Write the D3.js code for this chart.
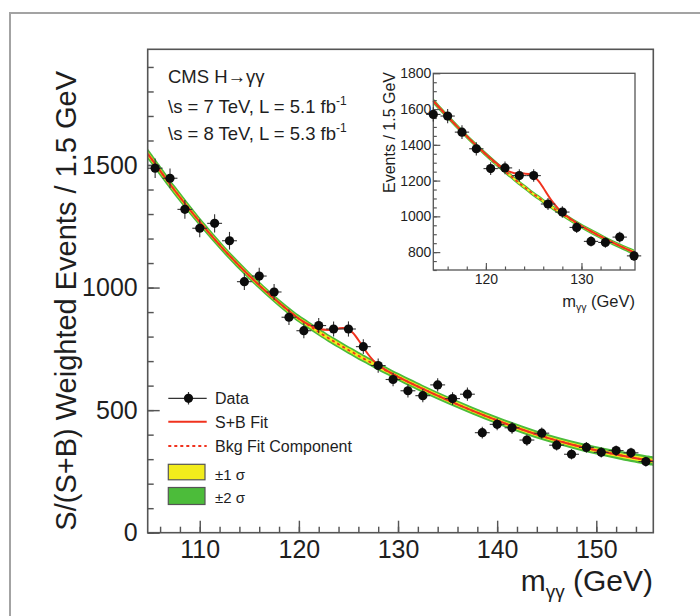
<!DOCTYPE html>
<html>
<head>
<meta charset="utf-8">
<script src="https://cdn.jsdelivr.net/npm/d3@7"></script>
<style>
  html, body { margin: 0; padding: 0; background: #fff; }
  svg { display: block; font-family: "Liberation Sans", Arial, Helvetica, sans-serif; }
</style>
</head>
<body>
<svg id="chart" width="700" height="616"></svg>
<script>
// ---- Main panel: S/(S+B) weighted diphoton mass spectrum (1.5 GeV bins) ----
const massBins = [105.5, 107, 108.5, 110, 111.5, 113, 114.5, 116, 117.5, 119, 120.5, 122, 123.5, 125, 126.5, 128, 129.5,
                  131, 132.5, 134, 135.5, 137, 138.5, 140, 141.5, 143, 144.5, 146, 147.5, 149, 150.5, 152, 153.5, 155];
const weightedEvents = [1487, 1446, 1319, 1242, 1262, 1191, 1024, 1047, 982, 879, 824, 845, 831, 831, 759, 682, 625,
                        579, 559, 603, 547, 565, 408, 442, 428, 378, 406, 357, 320, 348, 328, 335, 326, 290];
const weightedErrors = [40, 40, 38, 37, 37, 36, 34, 34, 33, 32, 31, 31, 31, 31, 30, 29, 28,
                        27, 27, 27, 26, 27, 24, 24, 24, 23, 23, 22, 21, 22, 21, 21, 21, 20];

// Fit curves sampled along the mass axis
const fitMass = [104.75, 105, 107.5, 110, 112.5, 115, 117.5, 120, 121, 122, 123, 123.5, 124, 124.5, 125, 125.5, 126,
                 126.5, 127, 127.5, 128, 129, 130, 132.5, 135, 137.5, 140, 142.5, 145, 147.5, 150, 152.5, 155, 155.75];
const bkgFit = [1545, 1532, 1395, 1268, 1152, 1048, 955, 873, 846, 819, 793, 781, 769, 757, 745, 734, 722,
                711, 700, 689, 678, 657, 636, 587, 541, 498, 458, 421, 388, 360, 336, 315, 297, 292];
const sbFit = [1545, 1532, 1395, 1268, 1152, 1048, 955, 873, 849, 832, 827, 829, 833, 835, 830, 813, 786,
               756, 727, 703, 684, 658, 636, 587, 541, 498, 458, 421, 388, 360, 336, 315, 297, 292];
const bkgErr1 = [11, 11, 10, 9, 8, 8, 8, 8, 8, 8, 8, 8, 8, 8, 8, 8, 8,
                 8, 8, 8, 8, 8, 8, 8, 8, 8, 8, 8, 8, 8, 9, 9, 10, 10];
const bkgErr2 = [22, 22, 20, 18, 17, 16, 16, 16, 16, 16, 16, 16, 16, 16, 16, 16, 16,
                 16, 16, 16, 16, 16, 16, 16, 16, 16, 16, 16, 16, 16, 17, 18, 19, 20];

const xTicksMain = [110, 120, 130, 140, 150];
const yTicksMain = [0, 500, 1000, 1500];

// ---- Inset: unweighted events around the peak ----
const insetMass = [114.5, 116, 117.5, 119, 120.5, 122, 123.5, 125, 126.5, 128, 129.5, 131, 132.5, 134, 135.5];
const insetEvents = [1570, 1561, 1471, 1378, 1267, 1271, 1228, 1228, 1069, 1024, 938, 860, 854, 884, 779];
const insetErrors = [40, 40, 38, 37, 36, 36, 35, 35, 33, 32, 31, 29, 29, 30, 28];

const insetFitMass = [114.5, 116, 117.5, 119, 120.5, 122, 123, 123.5, 124, 124.5, 125, 125.5, 126, 126.5, 127, 127.5,
                      128, 129.5, 131, 132.5, 134, 135.5];
const insetBkg = [1645, 1558, 1475, 1396, 1322, 1252, 1208, 1186, 1165, 1145, 1124, 1105, 1085, 1066, 1048, 1030,
                  1012, 962, 916, 874, 835, 799];
const insetSB = [1645, 1558, 1475, 1396, 1324, 1262, 1241, 1238, 1239, 1237, 1224, 1198, 1160, 1118, 1079, 1047,
                 1020, 963, 916, 874, 835, 799];
const insetErr1 = [8, 8, 7, 7, 7, 7, 7, 7, 7, 7, 7, 7, 7, 7, 7, 7, 7, 7, 7, 7, 7, 8];
const insetErr2 = [16, 15, 14, 14, 14, 14, 14, 14, 14, 14, 14, 14, 14, 14, 14, 14, 14, 14, 14, 14, 15, 16];

const xTicksInset = [120, 130];
const yTicksInset = [800, 1000, 1200, 1400, 1600, 1800];

// ---- Styling ----
const RED = "#f0321e", YELLOW = "#f2ec1c", GREEN = "#4cbc3a", INK = "#1e1e1e", FRAME = "#555";

const svg = d3.select("#chart");

// Canvas frame
svg.append("rect").attr("x", 10).attr("y", 13).attr("width", 720).attr("height", 640)
  .attr("fill", "#fff").attr("stroke", "#a3a3a3").attr("stroke-width", 2);

function drawPanel(g, opt) {
  const x = d3.scaleLinear().domain(opt.xDomain).range([opt.left, opt.right]);
  const y = d3.scaleLinear().domain(opt.yDomain).range([opt.bottom, opt.top]);
  const curve = d3.curveCatmullRom.alpha(0.5);

  const idx = d3.range(opt.fitMass.length);
  const band = (err) => d3.area().curve(curve)
    .x(i => x(opt.fitMass[i]))
    .y0(i => y(opt.bkg[i] - err[i]))
    .y1(i => y(opt.bkg[i] + err[i]));

  g.append("path").datum(idx).attr("d", band(opt.err2)).attr("fill", GREEN);
  g.append("path").datum(idx).attr("d", band(opt.err1)).attr("fill", YELLOW);

  const line = (vals) => d3.line().curve(curve).x(i => x(opt.fitMass[i])).y(i => y(vals[i]));
  g.append("path").datum(idx).attr("d", line(opt.bkg))
    .attr("fill", "none").attr("stroke", RED).attr("stroke-width", opt.lw * 0.9)
    .attr("stroke-dasharray", "3,3");
  g.append("path").datum(idx).attr("d", line(opt.sb))
    .attr("fill", "none").attr("stroke", RED).attr("stroke-width", opt.lw);

  // frame
  g.append("rect").attr("x", opt.left).attr("y", opt.top)
    .attr("width", opt.right - opt.left).attr("height", opt.bottom - opt.top)
    .attr("fill", "none").attr("stroke", FRAME).attr("stroke-width", opt.frameW);

  // axes (ticks pointing into the frame)
  const styleAxis = (a) => {
    a.select(".domain").remove();
    a.selectAll(".tick line").attr("stroke", FRAME).attr("stroke-width", opt.frameW * 0.9);
    a.selectAll("text").attr("fill", INK).style("font-size", opt.tickFont + "px")
      .style("font-family", "\"Liberation Sans\", Arial, sans-serif");
  };
  const xMinor = d3.range(Math.ceil(opt.xDomain[0] / 2) * 2, opt.xDomain[1], 2);
  const yMinor = d3.range(Math.ceil(opt.yDomain[0] / opt.yMinorStep) * opt.yMinorStep, opt.yDomain[1], opt.yMinorStep);

  g.append("g").attr("transform", `translate(0,${opt.bottom})`)
    .call(d3.axisBottom(x).tickValues(xMinor).tickSize(-opt.minorLen).tickFormat(""))
    .call(styleAxis);
  g.append("g").attr("transform", `translate(0,${opt.bottom})`)
    .call(d3.axisBottom(x).tickValues(opt.xTicks).tickSize(-opt.majorLen).tickPadding(opt.xPad).tickFormat(d3.format("d")))
    .call(styleAxis);
  g.append("g").attr("transform", `translate(${opt.left},0)`)
    .call(d3.axisLeft(y).tickValues(yMinor).tickSize(-opt.minorLen).tickFormat(""))
    .call(styleAxis);
  g.append("g").attr("transform", `translate(${opt.left},0)`)
    .call(d3.axisLeft(y).tickValues(opt.yTicks).tickSize(-opt.majorLen).tickPadding(opt.yPad).tickFormat(d3.format("d")))
    .call(styleAxis);

  // data points with bin-width and statistical error bars
  const pts = g.append("g");
  opt.mass.forEach((m, i) => {
    const cx = x(m), cy = y(opt.vals[i]);
    pts.append("line").attr("x1", x(m - 0.75)).attr("x2", x(m + 0.75)).attr("y1", cy).attr("y2", cy)
      .attr("stroke", "#333").attr("stroke-width", 1.1);
    pts.append("line").attr("x1", cx).attr("x2", cx)
      .attr("y1", y(opt.vals[i] - opt.errs[i])).attr("y2", y(opt.vals[i] + opt.errs[i]))
      .attr("stroke", "#333").attr("stroke-width", 1.1);
    pts.append("circle").attr("cx", cx).attr("cy", cy).attr("r", opt.r).attr("fill", "#0c0c0c");
  });
  return { x, y };
}

// Main panel
const main = svg.append("g");
drawPanel(main, {
  xDomain: [104.75, 155.75], yDomain: [0, 1972],
  left: 147.7, right: 653.3, top: 49.3, bottom: 532.7,
  fitMass, bkg: bkgFit, sb: sbFit, err1: bkgErr1, err2: bkgErr2,
  mass: massBins, vals: weightedEvents, errs: weightedErrors,
  xTicks: xTicksMain, yTicks: yTicksMain, yMinorStep: 100,
  majorLen: 12, minorLen: 6, tickFont: 25, xPad: 8, yPad: 10,
  lw: 2, frameW: 1.6, r: 4.6
});

// Main axis titles
const xt = main.append("text").attr("x", 653).attr("y", 591).attr("text-anchor", "end")
  .attr("fill", INK).style("font-size", "30px");
xt.append("tspan").text("m");
xt.append("tspan").text("γγ").style("font-size", "19px").attr("dy", 7);
xt.append("tspan").text(" (GeV)").attr("dy", -7);

main.append("text").attr("transform", "translate(76,71) rotate(-90)").attr("text-anchor", "end")
  .attr("fill", INK).style("font-size", "29px")
  .text("S/(S+B) Weighted Events / 1.5 GeV");

// Header text
const hdr = main.append("g").attr("fill", INK).style("font-size", "18.5px");
hdr.append("text").attr("x", 168).attr("y", 83).text("CMS H→γγ");
const l2 = hdr.append("text").attr("x", 168).attr("y", 113);
l2.append("tspan").text("\\s = 7 TeV, L = 5.1 fb");
l2.append("tspan").text("-1").style("font-size", "12px").attr("dy", -8);
const l3 = hdr.append("text").attr("x", 168).attr("y", 139.5);
l3.append("tspan").text("\\s = 8 TeV, L = 5.3 fb");
l3.append("tspan").text("-1").style("font-size", "12px").attr("dy", -8);

// Legend
const lg = main.append("g").style("font-size", "16px").attr("fill", INK);
const lx0 = 168.3, lx1 = 206.7, ltx = 215;
lg.append("line").attr("x1", lx0).attr("x2", lx1).attr("y1", 398.3).attr("y2", 398.3)
  .attr("stroke", "#333").attr("stroke-width", 1.2);
lg.append("line").attr("x1", 188.5).attr("x2", 188.5).attr("y1", 392).attr("y2", 404.5)
  .attr("stroke", "#333").attr("stroke-width", 1.2);
lg.append("circle").attr("cx", 188.5).attr("cy", 398.3).attr("r", 4.6).attr("fill", "#0c0c0c");
lg.append("text").attr("x", ltx).attr("y", 404).text("Data");

lg.append("line").attr("x1", lx0).attr("x2", lx1).attr("y1", 421.7).attr("y2", 421.7)
  .attr("stroke", RED).attr("stroke-width", 2);
lg.append("text").attr("x", ltx).attr("y", 428).text("S+B Fit");

lg.append("line").attr("x1", lx0).attr("x2", lx1).attr("y1", 446).attr("y2", 446)
  .attr("stroke", RED).attr("stroke-width", 1.8).attr("stroke-dasharray", "3,3");
lg.append("text").attr("x", ltx).attr("y", 452).text("Bkg Fit Component");

lg.append("rect").attr("x", lx0).attr("y", 464.3).attr("width", 36.7).attr("height", 15.5)
  .attr("fill", YELLOW).attr("stroke", "#555").attr("stroke-width", 1.2);
lg.append("text").attr("x", ltx).attr("y", 479.5).style("font-size", "15px").text("±1 σ");
lg.append("rect").attr("x", lx0).attr("y", 487.5).attr("width", 36.7).attr("height", 17)
  .attr("fill", GREEN).attr("stroke", "#555").attr("stroke-width", 1.2);
lg.append("text").attr("x", ltx).attr("y", 502.5).style("font-size", "15px").text("±2 σ");

// Inset panel
const inset = svg.append("g");
drawPanel(inset, {
  xDomain: [114.5, 135.6], yDomain: [700, 1800],
  left: 433.3, right: 635, top: 73.3, bottom: 270,
  fitMass: insetFitMass, bkg: insetBkg, sb: insetSB, err1: insetErr1, err2: insetErr2,
  mass: insetMass, vals: insetEvents, errs: insetErrors,
  xTicks: xTicksInset, yTicks: yTicksInset, yMinorStep: 50,
  majorLen: 7, minorLen: 3.5, tickFont: 14, xPad: 4, yPad: 2,
  lw: 2, frameW: 1.3, r: 4.6
});
const ixt = inset.append("text").attr("x", 635).attr("y", 307).attr("text-anchor", "end")
  .attr("fill", INK).style("font-size", "16.5px");
ixt.append("tspan").text("m");
ixt.append("tspan").text("γγ").style("font-size", "10.5px").attr("dy", 4);
ixt.append("tspan").text(" (GeV)").attr("dy", -4);
inset.append("text").attr("transform", "translate(395,72) rotate(-90)").attr("text-anchor", "end")
  .attr("fill", INK).style("font-size", "16px").text("Events / 1.5 GeV");
</script>
</body>
</html>
